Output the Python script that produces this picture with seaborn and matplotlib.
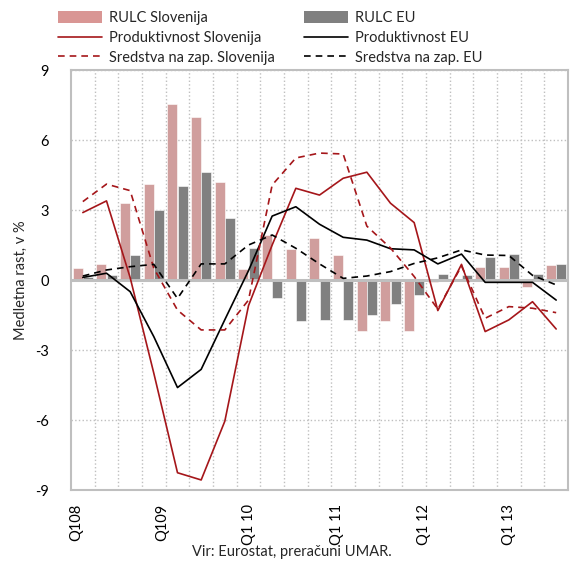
import matplotlib
matplotlib.use("Agg")
import matplotlib.pyplot as plt
from matplotlib.patches import Patch
from matplotlib.lines import Line2D
import seaborn as sns
import numpy as np
import pandas as pd

# Quarters Q1 2008 - Q1 2013
quarters = [f"{y}Q{q}" for y in range(2008, 2014) for q in range(1, 5)][:21]

# Bars: real unit labour costs, y-o-y growth in %
rulc_si = [0.52, 0.70, 3.29, 4.10, 7.56, 6.99, 4.21, 0.46, 1.91, 1.31, 1.81,
           1.07, -2.19, -1.76, -2.19, -0.10, 0.00, 0.57, 0.57, -0.29, 0.64]
rulc_eu = [0.14, 0.20, 1.07, 2.99, 4.03, 4.64, 2.67, 1.37, -0.79, -1.76, -1.70,
           -1.70, -1.51, -1.03, -0.66, 0.26, 0.21, 1.00, 1.11, 0.26, 0.70]

# Lines
prod_si = [2.89, 3.39, 0.10, -4.00, -8.26, -8.57, -6.05, -1.10, 1.50, 3.93, 3.64,
           4.36, 4.62, 3.29, 2.46, -1.31, 0.67, -2.21, -1.71, -0.93, -2.10]
prod_eu = [0.11, 0.29, -0.50, -2.43, -4.61, -3.83, -1.70, 0.40, 2.74, 3.14, 2.39,
           1.83, 1.71, 1.34, 1.29, 0.69, 1.11, -0.10, -0.10, -0.10, -0.86]
sred_si = [3.36, 4.11, 3.83, 0.50, -1.29, -2.14, -2.14, -0.86, 4.07, 5.23, 5.44,
           5.40, 2.31, 1.37, 0.15, -1.25, 0.60, -1.64, -1.14, -1.21, -1.40]
sred_eu = [0.17, 0.43, 0.57, 0.67, -0.79, 0.69, 0.69, 1.50, 1.93, 1.36, 0.69,
           0.07, 0.17, 0.36, 0.71, 0.95, 1.29, 1.07, 1.05, 0.20, -0.21]

tick_labels = ["Q108", "Q109", "Q1 10", "Q1 11", "Q1 12", "Q1 13"]
tick_pos = [-0.28, 3.36, 7.04, 10.72, 14.40, 18.00]

PINK = "#D99694"
GREY = "#808080"
RED = "#A5161A"
GRID = "#BFBFBF"

sns.set_style("white")
plt.rcParams["font.family"] = ["Lato", "DejaVu Sans"]

fig = plt.figure(figsize=(5.71, 5.61), dpi=100)
ax = fig.add_axes([71 / 571, 71 / 561, 497 / 571, 420 / 561])

# Bars
bars = pd.DataFrame({
    "quarter": quarters * 2,
    "value": rulc_si + rulc_eu,
    "series": ["RULC Slovenija"] * len(quarters) + ["RULC EU"] * len(quarters),
})
sns.barplot(data=bars, x="quarter", y="value", hue="series",
            palette=[PINK, GREY], width=0.88, gap=0.04, errorbar=None,
            edgecolor="white", linewidth=0.4, legend=False, ax=ax, zorder=2)

# Lines
sns.lineplot(x=quarters, y=prod_si, sort=False, color=RED, lw=1.2, ax=ax, zorder=4)
sns.lineplot(x=quarters, y=prod_eu, sort=False, color="black", lw=1.2, ax=ax, zorder=4)
sns.lineplot(x=quarters, y=sred_si, sort=False, color=RED, lw=1.2,
             dashes=False, linestyle=(0, (4, 3)), ax=ax, zorder=4)
sns.lineplot(x=quarters, y=sred_eu, sort=False, color="black", lw=1.2,
             dashes=False, linestyle=(0, (4, 3)), ax=ax, zorder=4)

ax.axhline(0, color=GRID, lw=2.2, zorder=3)

# Axes
ax.set_xlim(-0.5, len(quarters) - 0.5)
ax.set_ylim(-9, 9)
ax.set_yticks(range(-9, 10, 3))
ax.set_yticklabels([str(v) for v in range(-9, 10, 3)])
ax.set_xticks(tick_pos)
ax.set_xticklabels(tick_labels, rotation=90)
ax.set_xticks(np.arange(0.5, len(quarters) - 1, 1), minor=True)
ax.tick_params(axis="both", which="both", length=0, labelsize=10.5, colors="black")
ax.tick_params(axis="y", pad=16)
ax.tick_params(axis="x", pad=10)
ax.set_xlabel("")
ax.set_ylabel("Medletna rast, v %", fontsize=10.5, labelpad=5)

ax.grid(False)
ax.grid(axis="y", which="major", color=GRID, ls=":", lw=1.0, zorder=0)
ax.grid(axis="x", which="minor", color=GRID, ls=":", lw=1.0, zorder=0)
ax.set_axisbelow(True)
for sp in ax.spines.values():
    sp.set_color(GRID)
    sp.set_linewidth(1.5)

# Legend
handles = [
    Patch(facecolor=PINK, edgecolor="none"),
    Line2D([], [], color=RED, lw=1.2),
    Line2D([], [], color=RED, lw=1.2, ls=(0, (4, 3))),
    Patch(facecolor=GREY, edgecolor="none"),
    Line2D([], [], color="black", lw=1.2),
    Line2D([], [], color="black", lw=1.2, ls=(0, (4, 3))),
]
labels = ["RULC Slovenija", "Produktivnost Slovenija", "Sredstva na zap. Slovenija",
          "RULC EU", "Produktivnost EU", "Sredstva na zap. EU"]
fig.legend(handles, labels, ncol=2, loc="upper left",
           bbox_to_anchor=(58 / 571, 1 - 11 / 561), frameon=False,
           fontsize=10.5, handlelength=3.0, handleheight=0.8, handletextpad=0.5,
           columnspacing=2.0, labelspacing=0.4, borderpad=0, borderaxespad=0)

fig.text(292 / 571, 1 - 552 / 561, "Vir: Eurostat, preračuni UMAR.",
         ha="center", va="center", fontsize=10.5)

fig.savefig("out.png", dpi=100)
